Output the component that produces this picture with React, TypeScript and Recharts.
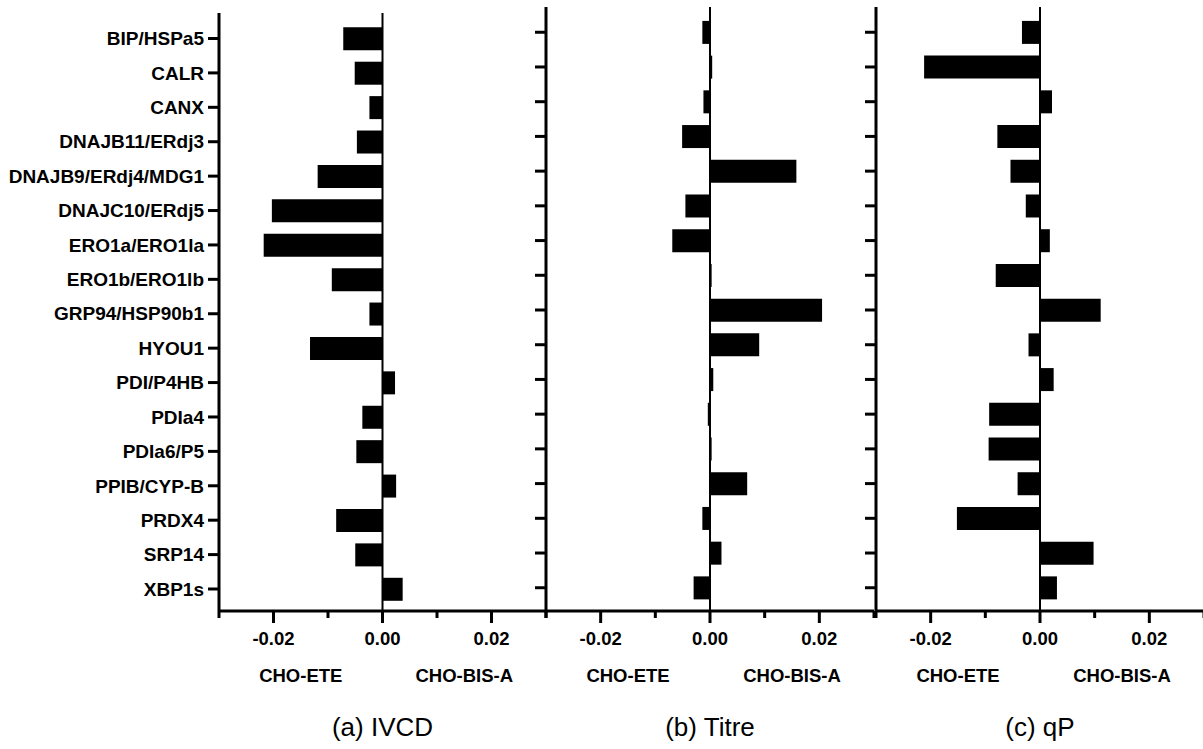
import { BarChart, Bar, XAxis, YAxis, ReferenceLine } from 'recharts';

const FONT = '"Liberation Sans", Arial, sans-serif';

const genes = [
  'BIP/HSPa5',
  'CALR',
  'CANX',
  'DNAJB11/ERdj3',
  'DNAJB9/ERdj4/MDG1',
  'DNAJC10/ERdj5',
  'ERO1a/ERO1la',
  'ERO1b/ERO1lb',
  'GRP94/HSP90b1',
  'HYOU1',
  'PDI/P4HB',
  'PDIa4',
  'PDIa6/P5',
  'PPIB/CYP-B',
  'PRDX4',
  'SRP14',
  'XBP1s',
];

const ivcd = [
  -0.0072, -0.0051, -0.0024, -0.0047, -0.0119, -0.0203, -0.0218, -0.0093, -0.0024,
  -0.0133, 0.0023, -0.0037, -0.0048, 0.0025, -0.0085, -0.005, 0.0037,
];

const titre = [
  -0.0014, 0.0004, -0.0012, -0.0051, 0.0158, -0.0045, -0.0069, 0.0003, 0.0205,
  0.009, 0.0006, -0.0004, 0.0003, 0.0068, -0.0014, 0.0021, -0.003,
];

const qp = [
  -0.0033, -0.0212, 0.0022, -0.0078, -0.0054, -0.0026, 0.0018, -0.0081, 0.0111,
  -0.0021, 0.0025, -0.0093, -0.0094, -0.0041, -0.0152, 0.0098, 0.0031,
];

const xTicks = [-0.03, -0.02, -0.01, 0, 0.01, 0.02, 0.03];
const sideLabels = ['CHO-ETE', 'CHO-BIS-A'];

const AXIS_Y = 611;
const CHART_H = 749;

function XTick(props: any) {
  const { x, y, payload } = props;
  const v = payload.value as number;
  const steps = Math.round(v * 100);
  const major = steps % 2 === 0;
  const showLabel = major && Math.abs(steps) < 3;
  return (
    <g>
      <line x1={x} x2={x} y1={y} y2={y + (major ? 12 : 7)} stroke="#000" strokeWidth={3} />
      {showLabel && (
        <text
          x={x}
          y={y + 28}
          dy="0.35em"
          textAnchor="middle"
          fill="#000"
          fontSize={18.5}
          fontWeight={700}
          fontFamily={FONT}
        >
          {v === 0 ? '0.00' : v.toFixed(2)}
        </text>
      )}
    </g>
  );
}

type PanelProps = {
  values: number[];
  left: number;
  yAxisWidth: number;
  plotWidth: number;
  top: number;
  padTop: number;
  padBottom: number;
  showNames: boolean;
  title: string;
};

function Panel({ values, left, yAxisWidth, plotWidth, top, padTop, padBottom, showNames, title }: PanelProps) {
  const data = genes.map((gene, i) => ({ gene, value: values[i] }));
  const right = 12;
  const width = yAxisWidth + plotWidth + right;
  const plotLeft = left + yAxisWidth;
  const textStyle = {
    position: 'absolute' as const,
    transform: 'translate(-50%, -50%)',
    whiteSpace: 'nowrap' as const,
    fontFamily: FONT,
    color: '#000',
    lineHeight: 1,
  };
  return (
    <>
      <div style={{ position: 'absolute', left, top: 0 }}>
        <BarChart
          width={width}
          height={CHART_H}
          data={data}
          layout="vertical"
          margin={{ top, right, bottom: 0, left: 0 }}
        >
          <XAxis
            type="number"
            domain={[-0.03, 0.03]}
            ticks={xTicks}
            allowDataOverflow
            height={CHART_H - AXIS_Y}
            axisLine={{ stroke: '#000', strokeWidth: 3 }}
            tickLine={false}
            tickSize={0}
            tickMargin={0}
            tick={<XTick />}
            interval={0}
          />
          <YAxis
            type="category"
            dataKey="gene"
            width={yAxisWidth}
            interval={0}
            padding={{ top: padTop, bottom: padBottom }}
            axisLine={{ stroke: '#000', strokeWidth: 3 }}
            tickLine={{ stroke: '#000', strokeWidth: 3 }}
            tickSize={11}
            tickMargin={4}
            tickFormatter={(g: string) => (showNames ? g : '')}
            tick={{ fill: '#000', fontSize: 19, fontWeight: 700, fontFamily: FONT }}
          />
          <ReferenceLine x={0} stroke="#000" strokeWidth={2} />
          <Bar dataKey="value" fill="#000" barSize={23} isAnimationActive={false} />
        </BarChart>
      </div>
      <div style={{ ...textStyle, left: plotLeft + plotWidth / 4, top: 676, fontSize: 18.5, fontWeight: 700 }}>
        {sideLabels[0]}
      </div>
      <div style={{ ...textStyle, left: plotLeft + (plotWidth * 3) / 4, top: 676, fontSize: 18.5, fontWeight: 700 }}>
        {sideLabels[1]}
      </div>
      <div style={{ ...textStyle, left: plotLeft + plotWidth / 2, top: 727, fontSize: 26 }}>{title}</div>
    </>
  );
}

export default function App() {
  return (
    <div
      style={{
        position: 'absolute',
        left: 0,
        top: 0,
        width: 1203,
        height: 749,
        overflow: 'hidden',
        background: '#fff',
      }}
    >
      <Panel values={ivcd} left={0} yAxisWidth={219} plotWidth={327} top={13} padTop={8.3} padBottom={4.8} showNames title="(a) IVCD" />
      <Panel values={titre} left={526} yAxisWidth={20} plotWidth={328} top={7} padTop={7.9} padBottom={5.9} showNames={false} title="(b) Titre" />
      <Panel values={qp} left={856} yAxisWidth={20} plotWidth={328} top={7} padTop={7.9} padBottom={5.9} showNames={false} title="(c) qP" />
    </div>
  );
}
